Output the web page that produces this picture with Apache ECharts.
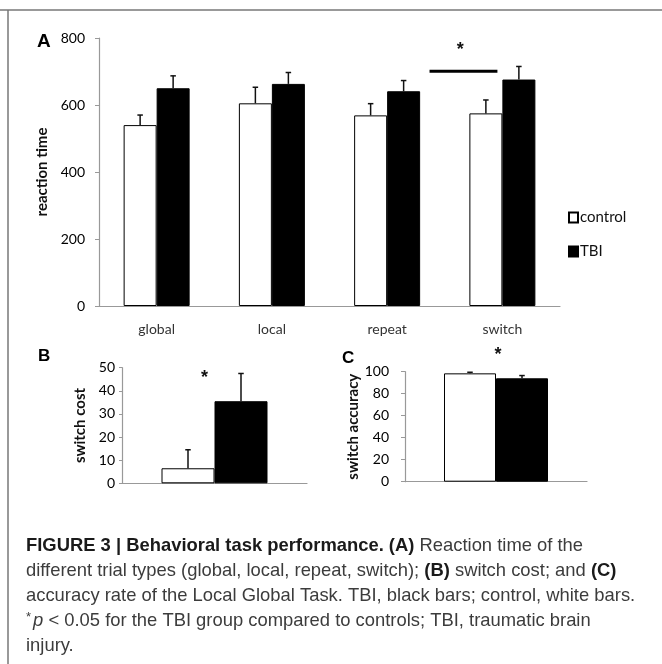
<!DOCTYPE html>
<html><head><meta charset="utf-8">
<script src="https://cdn.jsdelivr.net/npm/echarts@6/dist/echarts.min.js"></script>
<style>html,body{margin:0;padding:0;background:#fff}#c{width:662px;height:664px}</style>
</head><body><div id="c"></div>
<script>
// ---- data ----
const categories = ['global', 'local', 'repeat', 'switch'];
const controlRT = [540, 605, 569, 575];
const controlRTErr = [30, 48, 35, 40];
const tbiRT = [650, 663, 641, 676];
const tbiRTErr = [37, 34, 32, 39];
const rtTicks = [0, 200, 400, 600, 800];
const costValues = [6.5, 35.5];      // control, TBI
const costErr = [8, 12];
const costTicks = [0, 10, 20, 30, 40, 50];
const accValues = [98.5, 94];        // control, TBI
const accErr = [1, 2.5];
const accTicks = [0, 20, 40, 60, 80, 100];
const sigRT = [[3, 701]];            // significance bar level (switch)
const starRT = [[3, 765]];
const starCost = [[0, 45.5]];
const starAcc = [[0, 115]];

const FONT = 'Lato, "Open Sans", sans-serif';
const chart = echarts.init(document.getElementById('c'), null, {renderer: 'canvas'});

function errRender(offsetPx, capHalf) {
  return function (params, api) {
    const x = api.value(0), m = api.value(1), e = api.value(2);
    const p0 = api.coord([x, m]);
    const p1 = api.coord([x, m + e]);
    const cx = p0[0] + offsetPx;
    return {type: 'group', children: [
      {type: 'line', shape: {x1: cx, y1: p0[1], x2: cx, y2: p1[1]}, style: {stroke: '#111', lineWidth: 1.5}},
      {type: 'line', shape: {x1: cx - capHalf, y1: p1[1], x2: cx + capHalf, y2: p1[1]}, style: {stroke: '#111', lineWidth: 1.5}}
    ]};
  };
}
function starRender(offsetPx, size) {
  return function (params, api) {
    const p = api.coord([api.value(0), api.value(1)]);
    return {type: 'text', x: p[0] + offsetPx, y: p[1],
      style: {text: '*', fontSize: size, fontWeight: 'bold', fontFamily: 'Liberation Sans', fill: '#111', align: 'center', verticalAlign: 'middle'}};
  };
}
function yAxisCfg(grid, ticks, name, nameGap, margin, tickLen) {
  return {
    type: 'value', gridIndex: grid, min: ticks[0], max: ticks[ticks.length - 1],
    interval: ticks[1] - ticks[0],
    axisLine: {show: true, lineStyle: {color: '#999', width: 1.2}},
    axisTick: {show: true, length: tickLen, lineStyle: {color: '#999'}},
    splitLine: {show: false},
    axisLabel: {fontFamily: FONT, fontSize: 14, color: '#000', margin: margin},
    name: name, nameLocation: 'middle', nameRotate: 90, nameGap: nameGap,
    nameTextStyle: {fontFamily: FONT, fontSize: 15, fontWeight: 'bold', color: '#111'}
  };
}
function xAxisCfg(grid, data, showLabel) {
  return {
    type: 'category', gridIndex: grid, data: data,
    axisLine: {show: true, lineStyle: {color: '#999', width: 1.2}},
    axisTick: {show: false},
    axisLabel: {show: showLabel, fontFamily: FONT, fontSize: 14, color: '#333', margin: 16}
  };
}

const whiteBar = {color: '#fff', borderColor: '#000', borderWidth: 1};
const blackBar = {color: '#000', borderColor: '#000', borderWidth: 1};

const caption =
  '{b|FIGURE 3 | Behavioral task performance. (A)}{r| Reaction time of the}\n' +
  '{r|different trial types (global, local, repeat, switch); }{b|(B)}{r| switch cost; and }{b|(C)}\n' +
  '{r|accuracy rate of the Local Global Task. TBI, black bars; control, white bars.}\n' +
  '{s|*}{i|p}{r| < 0.05 for the TBI group compared to controls; TBI, traumatic brain}\n' +
  '{r|injury.}';
const CAP = 18.4;

chart.setOption({
  animation: false,
  backgroundColor: '#fff',
  legend: {
    data: ['control', 'TBI'], orient: 'vertical', left: 563, top: 205,
    itemWidth: 9, itemHeight: 10, itemGap: 19, icon: 'rect',
    textStyle: {fontFamily: FONT, fontSize: 15, color: '#111', padding: [0, 0, 0, -3]}
  },
  grid: [
    {left: 99, top: 38, width: 461, height: 268},
    {left: 122, top: 367.7, width: 185, height: 115.6},
    {left: 405, top: 371.7, width: 182, height: 110}
  ],
  xAxis: [
    xAxisCfg(0, categories, true),
    xAxisCfg(1, [''], false),
    xAxisCfg(2, [''], false)
  ],
  yAxis: [
    yAxisCfg(0, rtTicks, 'reaction time', 40, 14, 4),
    yAxisCfg(1, costTicks, 'switch cost', 34, 7, 3),
    yAxisCfg(2, accTicks, 'switch accuracy', 40, 16, 4)
  ],
  series: [
    {name: 'control', type: 'bar', xAxisIndex: 0, yAxisIndex: 0, data: controlRT, barWidth: 33, barGap: '0%', itemStyle: whiteBar},
    {name: 'TBI', type: 'bar', xAxisIndex: 0, yAxisIndex: 0, data: tbiRT, barWidth: 33, barGap: '0%', itemStyle: blackBar},
    {name: 'control', type: 'bar', xAxisIndex: 1, yAxisIndex: 1, data: [costValues[0]], barWidth: 53, barGap: '0%', itemStyle: whiteBar},
    {name: 'TBI', type: 'bar', xAxisIndex: 1, yAxisIndex: 1, data: [costValues[1]], barWidth: 53, barGap: '0%', itemStyle: blackBar},
    {name: 'control', type: 'bar', xAxisIndex: 2, yAxisIndex: 2, data: [accValues[0]], barWidth: 52, barGap: '0%', itemStyle: whiteBar},
    {name: 'TBI', type: 'bar', xAxisIndex: 2, yAxisIndex: 2, data: [accValues[1]], barWidth: 52, barGap: '0%', itemStyle: blackBar},
    {name: 'errA1', type: 'custom', xAxisIndex: 0, yAxisIndex: 0, renderItem: errRender(-16.5, 2.75),
      data: controlRT.map((v, i) => [i, v, controlRTErr[i]]), z: 3},
    {name: 'errA2', type: 'custom', xAxisIndex: 0, yAxisIndex: 0, renderItem: errRender(16.5, 2.75),
      data: tbiRT.map((v, i) => [i, v, tbiRTErr[i]]), z: 3},
    {name: 'errB1', type: 'custom', xAxisIndex: 1, yAxisIndex: 1, renderItem: errRender(-26.5, 2.75),
      data: [[0, costValues[0], costErr[0]]], z: 3},
    {name: 'errB2', type: 'custom', xAxisIndex: 1, yAxisIndex: 1, renderItem: errRender(26.5, 2.75),
      data: [[0, costValues[1], costErr[1]]], z: 3},
    {name: 'errC1', type: 'custom', xAxisIndex: 2, yAxisIndex: 2, renderItem: errRender(-26, 2.75),
      data: [[0, accValues[0], accErr[0]]], z: 3, clip: false},
    {name: 'errC2', type: 'custom', xAxisIndex: 2, yAxisIndex: 2, renderItem: errRender(26, 2.75),
      data: [[0, accValues[1], accErr[1]]], z: 3, clip: false},
    {name: 'sig', type: 'custom', xAxisIndex: 0, yAxisIndex: 0, data: sigRT, z: 3,
      renderItem: function (params, api) {
        const band = api.size([1, 0])[0];
        const p = api.coord([api.value(0), api.value(1)]);
        return {type: 'line', shape: {x1: p[0] - 0.632 * band, y1: p[1], x2: p[0] - 0.043 * band, y2: p[1]},
          style: {stroke: '#000', lineWidth: 3}};
      }},
    {name: 'starA', type: 'custom', xAxisIndex: 0, yAxisIndex: 0, data: starRT, renderItem: starRender(-42, 18), clip: false},
    {name: 'starB', type: 'custom', xAxisIndex: 1, yAxisIndex: 1, data: starCost, renderItem: starRender(-10, 18), clip: false},
    {name: 'starC', type: 'custom', xAxisIndex: 2, yAxisIndex: 2, data: starAcc, renderItem: starRender(2, 18), clip: false}
  ],
  graphic: [
    {type: 'line', shape: {x1: 0, y1: 10, x2: 662, y2: 10}, style: {stroke: '#777', lineWidth: 1.5}},
    {type: 'line', shape: {x1: 8, y1: 10, x2: 8, y2: 664}, style: {stroke: '#777', lineWidth: 1.5}},
    {type: 'text', left: 37, top: 32, style: {text: 'A', fontFamily: 'Liberation Sans', fontWeight: 'bold', fontSize: 19, fill: '#000'}},
    {type: 'text', left: 38, top: 348, style: {text: 'B', fontFamily: 'Liberation Sans', fontWeight: 'bold', fontSize: 17, fill: '#000'}},
    {type: 'text', left: 342, top: 350, style: {text: 'C', fontFamily: 'Liberation Sans', fontWeight: 'bold', fontSize: 17, fill: '#000'}},
    {type: 'text', left: 26, top: 533, style: {
      text: caption, fontFamily: 'Liberation Sans', fontSize: CAP, lineHeight: 25, fill: '#3c3c3c',
      rich: {
        b: {fontFamily: 'Liberation Sans', fontSize: CAP, fontWeight: 'bold', fill: '#1a1a1a', lineHeight: 25},
        r: {fontFamily: 'Liberation Sans', fontSize: CAP, fill: '#3c3c3c', lineHeight: 25},
        i: {fontFamily: 'Liberation Sans', fontSize: CAP, fontStyle: 'italic', fill: '#3c3c3c', lineHeight: 25},
        s: {fontFamily: 'Liberation Sans', fontSize: 13, fill: '#3c3c3c', lineHeight: 25, padding: [0, 2, 7, 0]}
      }
    }}
  ]
});
</script></body></html>
